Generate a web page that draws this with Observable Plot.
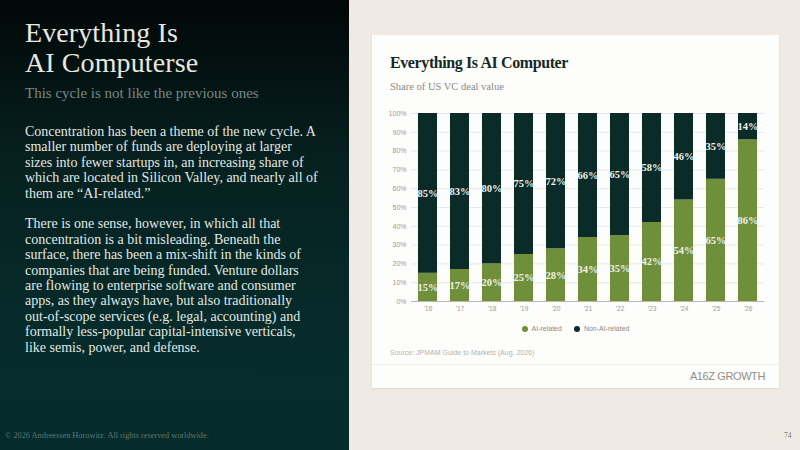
<!DOCTYPE html>
<html>
<head>
<meta charset="utf-8">
<script src="https://cdn.jsdelivr.net/npm/d3@7"></script>
<script src="https://cdn.jsdelivr.net/npm/@observablehq/plot@0.6"></script>
<style>
  html, body { margin: 0; padding: 0; }
  body { width: 800px; height: 450px; position: relative; overflow: hidden; background: #efebe4; font-family: "Liberation Serif", serif; }
  #left { position: absolute; left: 0; top: 0; width: 349px; height: 450px;
          background: linear-gradient(180deg, #020707 0%, #06201f 35%, #062b2a 70%, #052c2b 100%); }
  #left h1 { position: absolute; left: 25px; top: 18px; margin: 0; font-weight: 400; font-size: 28px; line-height: 30px; color: #e9e7df; letter-spacing: 0.1px; }
  #left .sub { position: absolute; left: 25px; top: 85px; font-size: 15px; color: #788985; }
  #left .body { position: absolute; left: 25px; top: 124px; font-size: 14px; line-height: 15.4px; color: #e2e8e3; white-space: nowrap; }
  #left .body p { margin: 0 0 15.4px 0; }
  #copy { position: absolute; left: 5px; top: 431px; font-size: 8.3px; color: #5e7672; }
  #page { position: absolute; left: 784px; top: 431px; font-size: 7.5px; color: #777; }
  #card { position: absolute; left: 372px; top: 35px; width: 407px; height: 353px; background: #fdfdfc; box-shadow: 0 1px 2px rgba(0,0,0,0.08); }
  #ctitle { position: absolute; left: 18px; top: 19px; font-size: 16px; font-weight: 700; color: #142826; letter-spacing: -0.4px; }
  #csub { position: absolute; left: 18px; top: 46px; font-size: 10.5px; color: #8a8a86; }
  #chart { position: absolute; left: 0; top: 65px; }
  #legend { position: absolute; left: 0; width: 407px; top: 290px; text-align: center; font-family: "Liberation Sans", sans-serif; font-size: 7px; color: #8a8a8a; }
  #legend span.item { display: inline-flex; align-items: center; margin: 0 6px; }
  #legend span.dot { width: 6px; height: 6px; border-radius: 50%; display: inline-block; margin-right: 4px; }
  #source { position: absolute; left: 18px; top: 314px; font-family: "Liberation Sans", sans-serif; font-size: 7px; color: #b4b4b0; }
  #sep { position: absolute; left: 0; right: 0; top: 329px; height: 1px; background: #eeeeea; }
  #logo { position: absolute; right: 14px; top: 335px; font-family: "Liberation Sans", sans-serif; font-size: 11px; color: #8f8f8a; letter-spacing: -0.4px; font-weight: 400; }
</style>
</head>
<body>
<div id="left">
  <h1>Everything Is<br>AI Computerse</h1>
  <div class="sub">This cycle is not like the previous ones</div>
  <div class="body">
    <p>Concentration has been a theme of the new cycle. A<br>smaller number of funds are deploying at larger<br>sizes into fewer startups in, an increasing share of<br>which are located in Silicon Valley, and nearly all of<br>them are “AI-related.”</p>
    <p>There is one sense, however, in which all that<br>concentration is a bit misleading. Beneath the<br>surface, there has been a mix-shift in the kinds of<br>companies that are being funded. Venture dollars<br>are flowing to enterprise software and consumer<br>apps, as they always have, but also traditionally<br>out-of-scope services (e.g. legal, accounting) and<br>formally less-popular capital-intensive verticals,<br>like semis, power, and defense.</p>
  </div>
</div>
<div id="copy">© 2026 Andreessen Horowitz. All rights reserved worldwide.</div>
<div id="page">74</div>

<div id="card">
  <div id="ctitle">Everything Is AI Computer</div>
  <div id="csub">Share of US VC deal value</div>
  <div id="chart"></div>
  <div id="legend"></div>
  <div id="source">Source: JPMAM Guide to Markets (Aug. 2026)</div>
  <div id="sep"></div>
  <div id="logo">A16Z GROWTH</div>
</div>

<script>
// Share of US VC deal value by year, in percent
const years = ["’16", "’17", "’18", "’19", "’20", "’21", "’22", "’23", "’24", "’25", "’26"];
const aiRelated = [15, 17, 20, 25, 28, 34, 35, 42, 54, 65, 86];
const nonAiRelated = [85, 83, 80, 75, 72, 66, 65, 58, 46, 35, 14];
const seriesNames = ["AI-related", "Non-AI-related"];
const seriesColors = ["#6f8f3b", "#0b2b29"];
const yTicks = [0, 10, 20, 30, 40, 50, 60, 70, 80, 90, 100];

// Long table: AI-related first so it stacks at the bottom
const rows = [];
years.forEach((year, i) => {
  rows.push({year, series: seriesNames[0], value: aiRelated[i]});
  rows.push({year, series: seriesNames[1], value: nonAiRelated[i]});
});

const chart = Plot.plot({
  width: 407,
  height: 220,
  marginLeft: 39,
  marginRight: 15,
  marginTop: 13,
  marginBottom: 19,
  style: {fontFamily: "Liberation Sans, sans-serif", background: "transparent"},
  x: {domain: years, paddingInner: 0.41, paddingOuter: 0.19, label: null, tickSize: 0, tickPadding: 5},
  y: {domain: [0, 100], ticks: yTicks, tickFormat: d => d + "%", label: null, tickSize: 0, tickPadding: 5},
  color: {domain: seriesNames, range: seriesColors},
  marks: [
    Plot.gridY(yTicks, {stroke: "#d9d9d6", strokeOpacity: 1, strokeWidth: 0.6}),
    Plot.barY(rows, Plot.stackY({x: "year", y: "value", z: "series", fill: "series"})),
    Plot.text(rows, Plot.stackY({x: "year", y: "value", z: "series", text: d => d.value + "%",
      fill: "#eef2ee", fontFamily: "Liberation Serif, serif", fontWeight: "bold", fontSize: 10.5})),
    Plot.ruleY([0], {stroke: "#b8b8b4", strokeWidth: 1})
  ]
});
chart.querySelectorAll("g[aria-label='y-axis tick label'] text, g[aria-label='x-axis tick label'] text").forEach(t => {
  t.setAttribute("fill", "#9a9a96");
});
chart.querySelectorAll("g[aria-label='y-axis tick label']").forEach(g => g.setAttribute("font-size", "7"));
chart.querySelectorAll("g[aria-label='x-axis tick label']").forEach(g => g.setAttribute("font-size", "6.5"));
document.getElementById("chart").appendChild(chart);

const legend = document.getElementById("legend");
seriesNames.forEach((name, i) => {
  const item = document.createElement("span");
  item.className = "item";
  const dot = document.createElement("span");
  dot.className = "dot";
  dot.style.background = seriesColors[i];
  item.appendChild(dot);
  item.appendChild(document.createTextNode(name));
  legend.appendChild(item);
});
</script>
</body>
</html>
